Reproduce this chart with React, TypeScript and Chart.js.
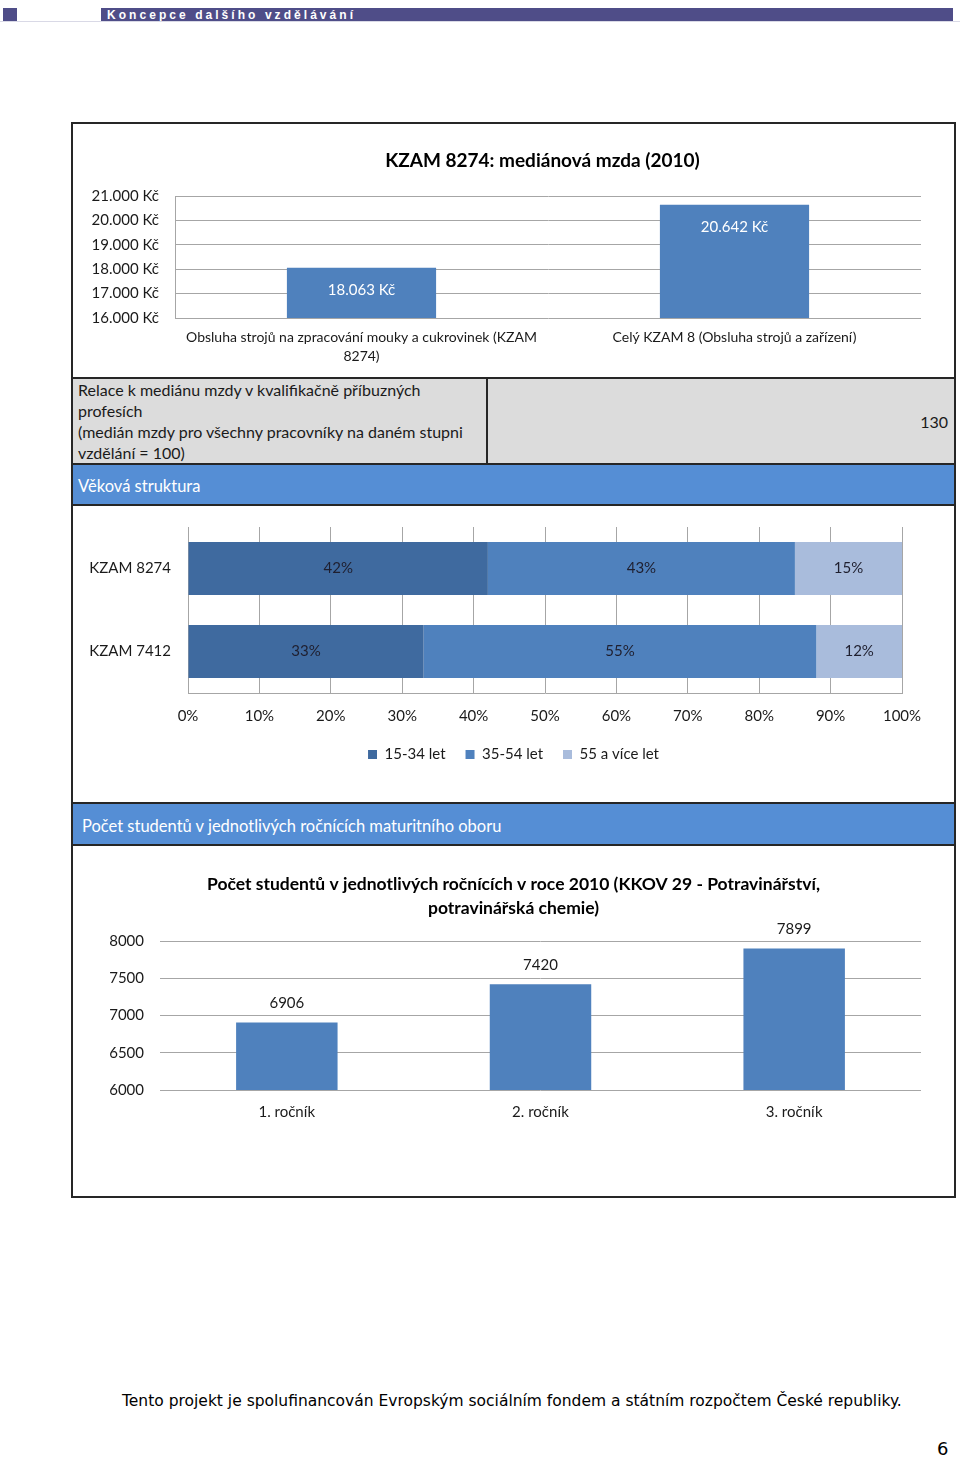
import React, { useEffect, useRef } from "react";
import { Chart, registerables } from "chart.js";

Chart.register(...registerables);

const FONT = "Lato, 'Open Sans', sans-serif";
Chart.defaults.font.family = FONT;
Chart.defaults.color = "#1a1a1a";

// ---------- Chart 1: median wage ----------
const wageTitle = "KZAM 8274: mediánová mzda (2010)";
const wageCategories = [
  ["Obsluha strojů na zpracování mouky a cukrovinek (KZAM", "8274)"],
  "Celý KZAM 8 (Obsluha strojů a zařízení)",
];
const wageValues = [18063, 20642];
const wageMin = 16000;
const wageMax = 21000;
const wageStep = 1000;

// ---------- Relation row ----------
const relationLines = [
  "Relace k mediánu mzdy v kvalifikačně příbuzných",
  "profesích",
  "(medián mzdy pro všechny pracovníky na daném stupni",
  "vzdělání = 100)",
];
const relationValue = "130";

// ---------- Chart 2: age structure ----------
const ageSection = "Věková struktura";
const ageCategories = ["KZAM 8274", "KZAM 7412"];
const ageGroups = ["15-34 let", "35-54 let", "55 a více let"];
const age1534 = [42, 33];
const age3554 = [43, 55];
const age55plus = [15, 12];

// ---------- Chart 3: students ----------
const studentSection = "Počet studentů v jednotlivých ročnících maturitního oboru";
const studentTitle = [
  "Počet studentů v jednotlivých ročnících v roce 2010 (KKOV 29 - Potravinářství,",
  "potravinářská chemie)",
];
const gradeCategories = ["1. ročník", "2. ročník", "3. ročník"];
const studentCounts = [6906, 7420, 7899];
const studentMin = 6000;
const studentMax = 8000;
const studentStep = 500;

const headerText = "Koncepce dalšího vzdělávání";
const footerText =
  "Tento projekt je spolufinancován Evropským sociálním fondem a státním rozpočtem České republiky.";
const pageNumber = "6";

// ---------- styles ----------
const BLUE = "#4f81bd";
const AGE_COLORS = ["#3f6a9f", "#4f81bd", "#a9bcdc"];
const GRID = "#a6a6a6";
const TEXT = "#1a1a1a";
const HEAD_BLUE = "#558ed5";
const BORDER = "#262626";

const thousands = (n: number) => String(Math.round(n)).replace(/\B(?=(\d{3})+(?!\d))/g, ".");
const kc = (n: number) => thousands(n) + " Kč";

function labelPlugin(mode: "insideTop" | "above" | "center", offset: number, font: string, color: string, fmt: (v: number) => string) {
  return {
    id: "valueLabels_" + mode,
    afterDatasetsDraw(chart: any) {
      const ctx = chart.ctx;
      ctx.save();
      ctx.font = font;
      ctx.fillStyle = color;
      ctx.textAlign = "center";
      ctx.textBaseline = "middle";
      chart.data.datasets.forEach((ds: any, di: number) => {
        const meta = chart.getDatasetMeta(di);
        meta.data.forEach((el: any, i: number) => {
          const v = ds.data[i];
          const p = el.getProps(["x", "y", "base"], true);
          let x = p.x;
          let y = p.y;
          if (mode === "insideTop") y = p.y + offset;
          else if (mode === "above") y = p.y - offset;
          else x = (p.x + p.base) / 2;
          ctx.fillText(fmt(v), x, y);
        });
      });
      ctx.restore();
    },
  };
}

function ChartCanvas({ left, top, width, height, make }: { left: number; top: number; width: number; height: number; make: () => any }) {
  const ref = useRef<HTMLCanvasElement>(null);
  useEffect(() => {
    const chart = new Chart(ref.current as HTMLCanvasElement, make());
    return () => chart.destroy();
  }, []);
  return (
    <canvas
      ref={ref}
      width={width}
      height={height}
      style={{ position: "absolute", left, top, width, height }}
    />
  );
}

const wageConfig = () => ({
  type: "bar",
  data: {
    labels: wageCategories,
    datasets: [
      {
        data: wageValues,
        backgroundColor: BLUE,
        borderWidth: 0,
        barPercentage: 0.4,
        categoryPercentage: 1,
      },
    ],
  },
  options: {
    responsive: false,
    animation: false,
    layout: { padding: { left: 16, right: 0, top: 0, bottom: 0 } },
    plugins: {
      legend: { display: false },
      tooltip: { enabled: false },
      title: {
        display: true,
        text: wageTitle,
        color: "#000",
        font: { size: 19, weight: "bold", lineHeight: "23px" },
        padding: { top: 25, bottom: 24 },
      },
    },
    scales: {
      x: {
        grid: { display: false, drawTicks: false },
        border: { display: false },
        ticks: { font: { size: 14, lineHeight: "19px" }, color: TEXT, padding: 10, maxRotation: 0, autoSkip: false },
        afterFit: (s: any) => {
          s.height = 58;
          s.paddingRight = 75;
        },
      },
      y: {
        min: wageMin,
        max: wageMax,
        ticks: { stepSize: wageStep, callback: (v: any) => kc(Number(v)), font: { size: 15 }, color: TEXT, padding: 16 },
        grid: { color: GRID, drawTicks: false },
        border: { display: true, color: GRID },
        afterFit: (s: any) => {
          s.width = 86;
        },
      },
    },
  },
  plugins: [labelPlugin("insideTop", 22, `15px ${FONT}`, "#ffffff", kc)],
});

const ageConfig = () => ({
  type: "bar",
  data: {
    labels: ageCategories,
    datasets: [age1534, age3554, age55plus].map((d, i) => ({
      label: ageGroups[i],
      data: d,
      backgroundColor: AGE_COLORS[i],
      borderWidth: 0,
      barPercentage: 0.64,
      categoryPercentage: 1,
    })),
  },
  options: {
    indexAxis: "y",
    responsive: false,
    animation: false,
    layout: { padding: { left: 0, right: 0, top: 20, bottom: 0 } },
    plugins: {
      tooltip: { enabled: false },
      legend: {
        position: "bottom",
        labels: { boxWidth: 9, boxHeight: 9, padding: 20, font: { size: 15 }, color: TEXT },
      },
    },
    scales: {
      x: {
        stacked: true,
        min: 0,
        max: 100,
        ticks: { stepSize: 10, callback: (v: any) => v + "%", padding: 14, font: { size: 15 }, color: TEXT, maxRotation: 0 },
        grid: { color: GRID, drawTicks: false },
        border: { display: true, color: GRID },
        afterFit: (s: any) => {
          s.height = 34;
          s.paddingRight = 52;
        },
      },
      y: {
        stacked: true,
        grid: { display: false, drawTicks: false },
        border: { display: true, color: GRID },
        ticks: { padding: 17, font: { size: 15 }, color: TEXT },
        afterFit: (s: any) => {
          s.width = 115;
          s.paddingTop = 0;
          s.paddingBottom = 0;
        },
      },
    },
  },
  plugins: [labelPlugin("center", 0, `15px ${FONT}`, "#1f1f2f", (v) => v + "%")],
});

const studentConfig = () => ({
  type: "bar",
  data: {
    labels: gradeCategories,
    datasets: [
      {
        data: studentCounts,
        backgroundColor: BLUE,
        borderWidth: 0,
        barPercentage: 0.4,
        categoryPercentage: 1,
      },
    ],
  },
  options: {
    responsive: false,
    animation: false,
    layout: { padding: 0 },
    plugins: {
      legend: { display: false },
      tooltip: { enabled: false },
      title: {
        display: true,
        text: studentTitle,
        color: "#000",
        font: { size: 17.5, weight: "bold", lineHeight: "24px" },
        padding: { top: 25, bottom: 21 },
      },
    },
    scales: {
      x: {
        grid: { display: false, drawTicks: false },
        border: { display: false },
        ticks: { font: { size: 15 }, color: TEXT, padding: 13, maxRotation: 0 },
        afterFit: (s: any) => {
          s.height = 57;
          s.paddingRight = 33;
        },
      },
      y: {
        min: studentMin,
        max: studentMax,
        ticks: { stepSize: studentStep, callback: (v: any) => String(v), font: { size: 15 }, color: TEXT, padding: 16 },
        grid: { color: GRID, drawTicks: false },
        border: { display: false },
        afterFit: (s: any) => {
          s.width = 87;
        },
      },
    },
  },
  plugins: [labelPlugin("above", 19, `15px ${FONT}`, TEXT, (v) => String(v))],
});

export default function App() {
  const abs = (s: React.CSSProperties): React.CSSProperties => ({ position: "absolute", boxSizing: "border-box", ...s });
  return (
    <div style={abs({ left: 0, top: 0, width: 960, height: 1459, background: "#fff", fontFamily: FONT, color: TEXT, overflow: "hidden" })}>
      {/* page header */}
      <div style={abs({ left: 0, top: 21, width: 960, height: 1, background: "#d9d9e6" })} />
      <div style={abs({ left: 3, top: 8, width: 14, height: 13, background: "#4f4d88" })} />
      <div
        style={abs({
          left: 101,
          top: 8,
          width: 852,
          height: 13,
          background: "#4f4d88",
          color: "#fff",
          fontFamily: "'Liberation Sans', Arial, sans-serif",
          fontSize: 12,
          fontWeight: "bold",
          lineHeight: "14px",
          letterSpacing: 3.05,
          paddingLeft: 6,
          whiteSpace: "nowrap",
          overflow: "hidden",
        })}
      >
        {headerText}
      </div>

      {/* outer box */}
      <div style={abs({ left: 71, top: 122, width: 885, height: 1076, border: `2px solid ${BORDER}` })} />

      {/* chart 1 */}
      <ChartCanvas left={73} top={124} width={923} height={252} make={wageConfig} />

      {/* relation row */}
      <div style={abs({ left: 73, top: 377, width: 881, height: 87, background: "#dcdcdc", borderTop: `2px solid ${BORDER}` })} />
      <div style={abs({ left: 486, top: 378, width: 2, height: 86, background: BORDER })} />
      <div style={abs({ left: 78, top: 379, width: 405, fontSize: 16, lineHeight: "21px", whiteSpace: "nowrap" })}>
        {relationLines.map((l, i) => (
          <div key={i}>{l}</div>
        ))}
      </div>
      <div style={abs({ left: 880, top: 411, width: 68, textAlign: "right", fontSize: 16, lineHeight: "21px" })}>{relationValue}</div>

      {/* age section header */}
      <div
        style={abs({
          left: 73,
          top: 463,
          width: 881,
          height: 43,
          background: HEAD_BLUE,
          borderTop: `2px solid ${BORDER}`,
          borderBottom: `2px solid ${BORDER}`,
          color: "#fff",
          fontSize: 16.5,
          lineHeight: "43px",
          paddingLeft: 5,
          overflow: "hidden",
        })}
      >
        {ageSection}
      </div>

      {/* chart 2 */}
      <ChartCanvas left={73} top={507} width={881} height={265} make={ageConfig} />

      {/* student section header */}
      <div
        style={abs({
          left: 73,
          top: 802,
          width: 881,
          height: 44,
          background: HEAD_BLUE,
          borderTop: `2px solid ${BORDER}`,
          borderBottom: `2px solid ${BORDER}`,
          color: "#fff",
          fontSize: 16.5,
          lineHeight: "44px",
          paddingLeft: 9,
          overflow: "hidden",
        })}
      >
        {studentSection}
      </div>

      {/* chart 3 */}
      <ChartCanvas left={73} top={847} width={881} height={300} make={studentConfig} />

      {/* footer */}
      <div style={abs({ left: 122, top: 1391, fontFamily: "'DejaVu Sans', Verdana, sans-serif", fontSize: 15.5, lineHeight: "20px", color: "#000", whiteSpace: "nowrap" })}>
        {footerText}
      </div>
      <div style={abs({ left: 937, top: 1438, fontFamily: "'DejaVu Sans', Verdana, sans-serif", fontSize: 18, lineHeight: "22px", color: "#000" })}>
        {pageNumber}
      </div>
    </div>
  );
}
